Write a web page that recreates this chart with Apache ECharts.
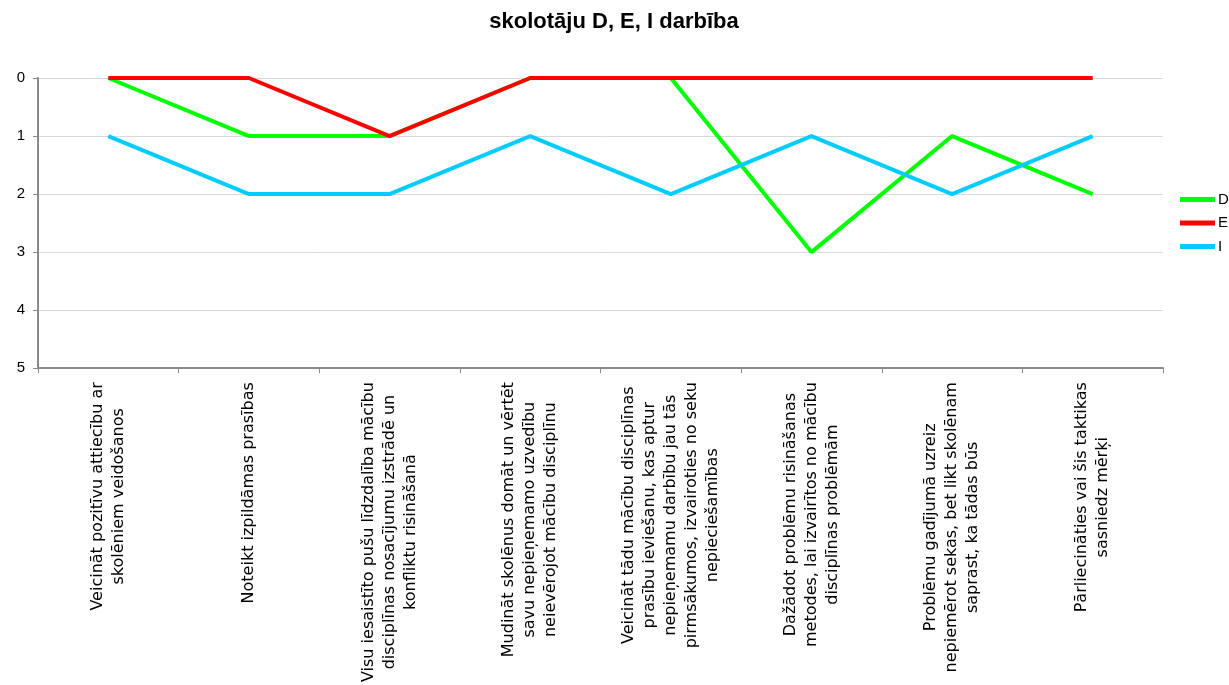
<!DOCTYPE html>
<html>
<head>
<meta charset="utf-8">
<script src="https://cdn.jsdelivr.net/npm/echarts@6/dist/echarts.min.js"></script>
<style>
  html, body { margin: 0; padding: 0; background: #ffffff; }
  #chart { width: 1229px; height: 685px; }
</style>
</head>
<body>
<div id="chart"></div>
<script>
// Category labels (line breaks as printed under the axis)
const categories = [
  'Veicināt pozitīvu attiecību ar\nskolēniem veidošanos',
  'Noteikt izpildāmas prasības',
  'Visu iesaistīto pušu līdzdalība mācību\ndisciplīnas nosacījumu izstrādē un\nkonfliktu risināšanā',
  'Mudināt skolēnus domāt un vērtēt\nsavu nepieņemamo uzvedību\nneievērojot mācību disciplīnu',
  'Veicināt tādu mācību disciplīnas\nprasību ieviešanu, kas aptur\nnepieņemamu darbību jau tās\npirmsākumos, izvairoties no seku\nnepieciešamības',
  'Dažādot problēmu risināšanas\nmetodes, lai izvairītos no mācību\ndisciplīnas problēmām',
  'Problēmu gadījumā uzreiz\nnepiemērot sekas, bet likt skolēnam\nsaprast, ka tādas būs',
  'Pārliecināties vai šis taktikas\nsasniedz mērķi'
];

// Teacher scores
const seriesD = [0, 1, 1, 0, 0, 3, 1, 2];
const seriesE = [0, 0, 1, 0, 0, 0, 0, 0];
const seriesI = [1, 2, 2, 1, 2, 1, 2, 1];

const yTicks = { min: 0, max: 5, interval: 1 };

const chart = echarts.init(document.getElementById('chart'), null, { renderer: 'canvas' });

const axisGray = '#8a8a8a';

function lineSeries(name, data, color) {
  return {
    name: name,
    type: 'line',
    data: data,
    symbol: 'none',
    lineStyle: { color: color, width: 4 },
    itemStyle: { color: color },
    emphasis: { disabled: true },
    animation: false
  };
}

chart.setOption({
  animation: false,
  backgroundColor: '#ffffff',
  title: {
    text: 'skolotāju D, E, I darbība',
    left: 609,
    top: 6,
    textAlign: 'center',
    textStyle: {
      fontFamily: 'Liberation Sans, Arial, sans-serif',
      fontSize: 22,
      fontWeight: 'bold',
      color: '#000000'
    }
  },
  legend: {
    orient: 'vertical',
    left: 1175,
    top: 187,
    itemWidth: 35,
    itemHeight: 5,
    itemGap: 8.5,
    icon: 'rect',
    selectedMode: false,
    textStyle: {
      fontFamily: 'Liberation Sans, Arial, sans-serif',
      fontSize: 15,
      color: '#000000',
      padding: [0, 0, 0, -2]
    },
    data: ['D', 'E', 'I']
  },
  grid: {
    left: 38,
    right: 66,
    top: 78,
    bottom: 316,
    containLabel: false
  },
  xAxis: {
    type: 'category',
    data: categories,
    boundaryGap: true,
    axisLine: { onZero: false, lineStyle: { color: axisGray, width: 2 } },
    axisTick: { show: true, length: 5, inside: false, lineStyle: { color: axisGray, width: 1 } },
    splitLine: { show: false },
    axisLabel: {
      interval: 0,
      rotate: 90,
      margin: 14,
      formatter: function (val) {
        return val.split('\n').map(function (s) { return '{c|' + s + '}'; }).join('\n');
      },
      rich: {
        c: {
          align: 'center',
          fontFamily: 'DejaVu Sans, Verdana, sans-serif',
          fontSize: 16,
          lineHeight: 21,
          color: '#000000'
        }
      }
    }
  },
  yAxis: {
    type: 'value',
    inverse: true,
    min: yTicks.min,
    max: yTicks.max,
    interval: yTicks.interval,
    axisLine: { show: true, onZero: false, lineStyle: { color: axisGray, width: 2 } },
    axisTick: { show: true, length: 5, inside: false, lineStyle: { color: axisGray, width: 1 } },
    splitLine: { show: true, lineStyle: { color: '#d9d9d9', width: 1 } },
    axisLabel: {
      margin: 13,
      fontFamily: 'Liberation Sans, Arial, sans-serif',
      fontSize: 15,
      color: '#000000'
    }
  },
  series: [
    lineSeries('D', seriesD, '#00ff00'),
    lineSeries('E', seriesE, '#ff0000'),
    lineSeries('I', seriesI, '#00ccff')
  ]
});
</script>
</body>
</html>
